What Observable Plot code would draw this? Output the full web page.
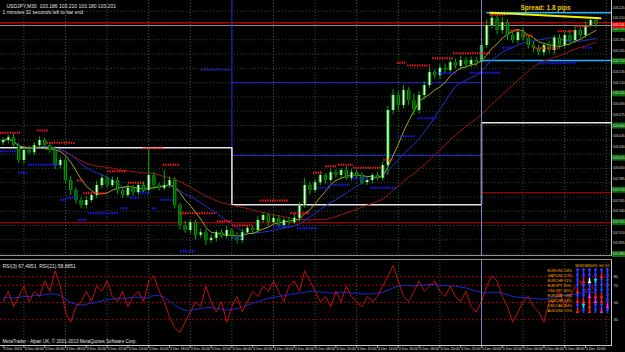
<!DOCTYPE html>
<html><head><meta charset="utf-8">
<script src="https://cdn.jsdelivr.net/npm/d3@7"></script>
<script src="https://cdn.jsdelivr.net/npm/@observablehq/plot@0.6"></script>
<style>
html,body{margin:0;padding:0;background:#000;width:625px;height:352px;overflow:hidden}
#chart{position:relative;width:625px;height:352px}
#chart svg{display:block}
#table{position:absolute;left:546px;top:261px}
</style></head><body><div id="chart"><div id="table"></div></div>
<script>
// ---------- data ----------
const firstOpen = 103.036;
const closes = [103.039,103.043,103.032,103.011,103.025,103.022,103.032,103.039,103.032,103.025,
 103.004,103.011,102.983,102.969,102.955,102.948,102.955,102.962,102.976,102.986,
 102.976,102.983,102.969,102.962,102.972,102.966,102.976,102.969,102.990,102.976,
 102.972,102.976,102.983,102.948,102.920,102.913,102.924,102.906,102.910,102.899,
 102.902,102.910,102.905,102.913,102.906,102.899,102.910,102.916,102.913,102.927,
 102.934,102.924,102.930,102.920,102.927,102.924,102.930,102.948,102.976,102.969,
 102.980,102.990,102.983,102.994,102.990,102.997,102.986,102.994,102.990,102.980,
 102.983,102.990,102.986,103.004,103.081,103.102,103.088,103.109,103.095,103.081,
 103.102,103.116,103.134,103.130,103.140,103.137,103.148,103.143,103.151,103.145,
 103.151,103.148,103.172,103.200,103.210,103.193,103.204,103.186,103.179,103.190,
 103.182,103.172,103.168,103.162,103.172,103.165,103.182,103.172,103.186,103.179,
 103.193,103.186,103.200,103.207,103.201];
// wick lengths beyond the body, in 0.001
const upperWick = [4,3,5,3,4,6,4,5,3,4, 5,4,3,6,3,4,5,4,6,4, 3,5,4,3,5,4,3,5,38,4,
 3,21,5,4,3,6,4,3,5,4, 5,3,4,6,3,4,5,4,3,6, 4,3,5,4,3,4,6,4,10,5, 4,6,3,5,4,3,5,4,3,4,
 5,3,4,5,6,8,5,7,4,9, 6,5,7,4,5,6,4,5,6,4, 5,4,6,8,6,5,7,4,5,3, 6,4,5,4,3,6,4,5,4,6, 5,4,5,3,3];
const lowerWick = [4,5,3,4,5,3,4,3,5,4, 6,5,4,7,5,4,5,3,4,5, 4,3,5,4,3,5,4,3,5,6,
 4,3,4,5,6,4,5,6,4,7, 4,5,3,4,6,5,4,3,5,4, 4,5,3,4,5,4,3,5,4,6, 3,4,5,3,4,5,3,4,5,3,
 4,5,3,4,14,6,8,5,7,7, 5,6,4,5,6,4,5,4,6,5, 4,6,5,4,5,6,5,7,4,5, 4,5,6,4,5,4,6,5,4,5, 4,5,4,3,4];
const rsiFast = [51,63,45,57,69,51,63,57,75,63, 87,69,39,27,45,51,63,51,69,63,
 75,57,51,63,45,57,63,51,75,81, 63,51,33,21,15,27,39,51,45,69, 51,39,51,27,45,57,39,51,63,57,
 69,63,75,63,51,69,75,63,87,75, 63,51,57,45,63,51,69,57,51,45, 57,51,57,69,81,93,75,57,51,63,
 75,63,69,75,63,57,69,57,51,63, 45,39,51,69,81,75,57,45,27,39, 51,57,45,39,27,51,51,63,45,57, 69,75,63,69,63];
const rsiSlow = [55,56,55,56,57,57,58,58,59,60, 60,58,54,50,48,47,48,49,50,52,
 53,54,55,55,55,56,56,55,56,58, 58,56,52,47,43,41,41,42,43,44, 44,43,42,41,42,43,45,47,49,51,
 53,55,56,57,58,59,60,61,62,63, 63,62,62,61,61,62,62,61,61,60, 60,60,61,62,64,67,69,70,70,69,
 70,70,71,71,70,70,69,69,68,67, 65,63,62,61,62,62,61,59,57,56, 56,55,55,54,54,55,56,57,58,59, 60,61,62,62,62];
// fractal levels [fromBar, toBar, price]
const resistance = [[-0.5,3.35,103.050],[6.6,8.7,103.053],[8.5,13.9,103.036],[14.3,15.5,102.983],[15.5,20.1,102.965],
 [20.1,23.9,102.996],[24.1,27,102.980],[27,30.8,103.028],[30.8,34.1,103.005],[34.1,40.8,102.937],[41.2,44.1,102.926],
 [44.1,48.2,102.920],[49.5,54.9,102.955],[55.3,59.1,102.937],[59.7,61.6,102.994],[62,64.3,103.003],[64.5,67.4,103.005],
 [67.4,73,103.001],[73.2,75.1,103.012],[75.8,77.4,103.148],[77.8,82.2,103.144],[82.6,86.6,103.154],[86.6,93.7,103.161],
 [93.7,96.6,103.215],[97.6,99.5,103.193],[100.1,102,103.186],[102,106.8,103.168],[106.8,110.1,103.192],[110.1,113,103.199]];
const support = [[-0.5,2.8,103.024],[3,4.7,102.994],[4.9,10.7,103.005],[11,12.4,102.956],[12.4,14.3,102.959],
 [14.5,16.2,102.928],[16.4,22.2,102.937],[22.6,24.1,102.944],[24.5,26.4,102.959],[26.4,28.3,102.965],[28.7,29.7,102.944],
 [30.3,32.8,102.956],[34.1,37,102.884],[44.3,46.2,102.903],[52,55.3,102.919],[56.6,60.5,102.916],[60.5,63,102.973],
 [63,66.8,102.977],[67.2,70.3,102.986],[70.7,75.8,102.973],[76,79.3,103.045],[79.7,83.5,103.070],[83.7,87.4,103.133],
 [89.9,95.7,103.134],[96.2,98.2,103.169],[103,107.2,103.147],[107.2,110.5,103.148],[111.6,113.5,103.169]];
// daily high/low lines
const pivotSteps = [[-0.5,103.029],[44,103.029],[44,102.949],[92,102.949],[92,103.064],[117,103.064]];
const boxBars = [44, 92];
const boxPrices = [103.120, 103.018];
const boxLeftLine = [38, 44, 103.138];
const hLines = [
  {x1:-0.5, x2:117, y:103.204, c:"#b00000", w:1.5},
  {x1:-0.5, x2:117, y:103.200, c:"#8c8c8c", w:1},
  {x1:-0.5, x2:117, y:102.924, c:"#9a0000", w:1.2},
  {x1:92, x2:117, y:102.966, c:"#9a0000", w:1.2},
  {x1:92, x2:117, y:103.151, c:"#1eb4ff", w:1.5},
  {x1:93, x2:117, y:103.218, c:"#1eb4ff", w:1.5}
];
const trendLine = [[93.7,103.218],[114.9,103.210]];
const priceTicks = [103.225,103.210,103.195,103.180,103.165,103.150,103.135,103.120,103.105,103.090,103.075,103.060,
 103.045,103.030,103.015,103.000,102.985,102.970,102.955,102.940,102.925,102.910,102.895,102.880];
const gridPrices = [103.220,103.200,103.180,103.160,103.140,103.120,103.100,103.080,103.060,103.040,103.020,103.000,
 102.980,102.960,102.940,102.920,102.900,102.880];
const gridBars = [4,12,20,28,36,44,52,60,68,76,84,92,100,108,116];
const greenGridBars = [28,76];
const timeTickBars = [0,4,8,12,16,20,24,28,32,36,40,44,48,52,56,60,64,68,72,76,80,84,88,92,96,100,104,108,112];
const timeLabels = ["3 Dec 2013","3 Dec 04:00","3 Dec 06:00","3 Dec 08:00","3 Dec 10:00","3 Dec 12:00","3 Dec 14:00",
 "3 Dec 16:00","3 Dec 18:00","3 Dec 20:00","3 Dec 22:00","4 Dec 00:00","4 Dec 02:00","4 Dec 04:00","4 Dec 06:00",
 "4 Dec 08:00","4 Dec 10:00","4 Dec 12:00","4 Dec 14:00","4 Dec 16:00","4 Dec 18:00","4 Dec 20:00","4 Dec 22:00",
 "5 Dec 00:00","5 Dec 02:00","5 Dec 04:00","5 Dec 06:00","5 Dec 08:00","5 Dec 10:00"];
const rsiLevels = [80,70,50,30];
const pairs = ["EURUSD 58%","GBPUSD 57%","EURCHF 11%","EURJPY 19%","USDJPY 40%","EURGBP 18%","USDCHF 41%","USDCAD 44%","AUDUSD 55%"];
const tfHeaders = ["M5","M15","M30","H1","H4","D1"];
const arrowGrid = [
 "BBBBBB",
 "BBBBRB",
 "BRWCBB",
 "BBBBBB",
 "RBBBBB",
 "BBMRRB",
 "RRRMRB",
 "BCRBBM",
 "RBRBMB"];
const titleLine1 = "USDJPY,M30  103.186 103.210 103.180 103.201";
const titleLine2 = "1 minutes 32 seconds left to bar end";
const spreadText = "Spread: 1.8 pips";
const rsiTitle = "RSI(3) 67.4951  RSI(21) 58.8851";
const copyright = "MetaTrader - Alpari UK, \u00a9 2001-2013 MetaQuotes Software Corp.";

// ---------- build ----------
const bars = closes.map((c, i) => {
  const o = i ? closes[i - 1] : firstOpen;
  return {i, open: o, close: c, high: Math.max(o, c) + upperWick[i] / 1000, low: Math.min(o, c) - lowerWick[i] / 1000};
});
const rsiRows = rsiFast.map((v, i) => ({i, fast: v, slow: rsiSlow[i]}));
const seg = a => a.map(([x1, x2, y]) => ({x1, x2, y}));
const xDom = [-0.5, 117];
const font = "Liberation Sans, Arial, sans-serif";
const gridMarks = [
  Plot.ruleX(gridBars, {stroke: d => greenGridBars.includes(d) ? "#1d7a1d" : "#505050", strokeDasharray: "1,2"})
];

const main = Plot.plot({
  width: 625, height: 257, marginLeft: 0, marginRight: 14, marginTop: 0, marginBottom: 2,
  style: {background: "#000", fontFamily: font, fontSize: "5px", color: "#ddd"},
  x: {domain: xDom, axis: null},
  y: {domain: [102.878, 103.235], axis: null},
  color: {type: "identity"},
  marks: [
    Plot.ruleY(gridPrices, {stroke: "#2f4a2f", strokeDasharray: "1,2"}),
    ...gridMarks,
    Plot.ruleY(hLines, {x1: "x1", x2: "x2", y: "y", stroke: "c", strokeWidth: "w"}),
    Plot.ruleY(boxPrices, {x1: boxBars[0], x2: boxBars[1], stroke: "#1a2ad8"}),
    Plot.ruleX(boxBars, {y1: boxPrices[1], y2: 103.235, stroke: "#1a2ad8"}),
    Plot.ruleY([boxLeftLine], {x1: d => d[0], x2: d => d[1], y: d => d[2], stroke: "#1a2ad8"}),
    Plot.line(pivotSteps, {x: d => d[0], y: d => d[1], stroke: "#e6e6e6", strokeWidth: 1.5}),
    Plot.lineY(bars, Plot.windowY({k: 30, anchor: "end", strict: false}, {x: "i", y: "close", stroke: "#a01414", strokeWidth: 1})),
    Plot.lineY(bars, Plot.windowY({k: 14, anchor: "end", strict: false}, {x: "i", y: "close", stroke: "#2233cc", strokeWidth: 1})),
    Plot.lineY(bars, Plot.windowY({k: 7, anchor: "end", strict: false}, {x: "i", y: "close", stroke: "#a8a020", strokeWidth: 1})),
    Plot.ruleX(bars, {x: "i", y1: "low", y2: "high", stroke: "#00b000", strokeWidth: 1}),
    Plot.ruleX(bars, {x: "i", y1: "open", y2: "close", stroke: "#0aa00a", strokeWidth: 3.4}),
    Plot.ruleX(bars.filter(d => d.close > d.open), {x: "i", y1: "open", y2: "close", stroke: "#e8ffe8", strokeWidth: 1.4}),
    Plot.ruleX(bars.filter(d => d.close <= d.open), {x: "i", y1: "open", y2: "close", stroke: "#004a00", strokeWidth: 1.4}),
    Plot.ruleY(seg(resistance), {x1: "x1", x2: "x2", y: "y", stroke: "#ff1a1a", strokeWidth: 2, strokeDasharray: "1.4,1"}),
    Plot.ruleY(seg(support), {x1: "x1", x2: "x2", y: "y", stroke: "#1a1aff", strokeWidth: 2, strokeDasharray: "1.4,1"}),
    Plot.line(trendLine, {x: d => d[0], y: d => d[1], stroke: "#f0f000", strokeWidth: 2}),
    Plot.ruleX([92], {stroke: "#7a86b8", strokeWidth: 1}),
    Plot.ruleX([117], {stroke: "#c8c8c8"}),
    Plot.ruleY(priceTicks.filter((d, i) => i % 3 === 2), {x1: 117.2, x2: 122, stroke: "#0a6e0a", strokeWidth: 6}),
    Plot.text(priceTicks, {y: d => d, frameAnchor: "right", textAnchor: "start", dx: 1, text: d => d.toFixed(3), fill: "#d8d8d8", fontSize: 3.4}),
    Plot.ruleY([closes[closes.length - 1]], {x1: 117.2, x2: 122, stroke: "#e00000", strokeWidth: 6}),
    Plot.text([closes[closes.length - 1]], {y: d => d, frameAnchor: "right", textAnchor: "start", dx: 1, text: d => d.toFixed(3), fill: "#fff", fontSize: 3.4}),
    Plot.frame({anchor: "bottom", stroke: "#909090"}),
    Plot.text([titleLine1], {frameAnchor: "top-left", dx: 6, dy: 4, textAnchor: "start", fill: "#e0e0e0", fontSize: 5}),
    Plot.text([titleLine2], {frameAnchor: "top-left", dx: 2, dy: 10, textAnchor: "start", fill: "#e0e0e0", fontSize: 5}),
    Plot.text([spreadText], {frameAnchor: "top-left", dx: 520, dy: 5, textAnchor: "start", fill: "#e8c400", fontSize: 6.5, fontWeight: "bold"})
  ]
});

const rsi = Plot.plot({
  width: 625, height: 95, marginLeft: 0, marginRight: 14, marginTop: 2, marginBottom: 7,
  style: {background: "#000", fontFamily: font, fontSize: "5px", color: "#ddd"},
  x: {domain: xDom, axis: null},
  y: {domain: [0, 100], axis: null},
  color: {type: "identity"},
  marks: [
    ...gridMarks,
    Plot.ruleY(rsiLevels, {stroke: "#a00000", strokeDasharray: "2,2"}),
    Plot.line(rsiRows, {x: "i", y: "slow", stroke: "#1a2ad8", strokeWidth: 1}),
    Plot.line(rsiRows, {x: "i", y: "fast", stroke: "#c01010", strokeWidth: 1}),
    Plot.ruleX([92], {stroke: "#7a86b8", strokeWidth: 1}),
    Plot.ruleX([117], {stroke: "#c8c8c8"}),
    Plot.text(rsiLevels, {y: d => d, frameAnchor: "right", textAnchor: "start", dx: 2, text: d => String(d), fill: "#d8d8d8", fontSize: 4}),
    Plot.frame({anchor: "top", stroke: "#909090"}),
    Plot.frame({anchor: "bottom", stroke: "#c8c8c8"}),
    Plot.ruleX(timeTickBars, {y1: 0, y2: -3, stroke: "#c8c8c8"}),
    Plot.text(timeTickBars, {x: d => d, frameAnchor: "bottom", dy: 4.5, dx: 0.5, textAnchor: "start", text: (d, i) => timeLabels[i], fill: "#e0e0e0", fontSize: 3.6}),
    Plot.text([rsiTitle], {frameAnchor: "top-left", dx: 2, dy: 5, textAnchor: "start", fill: "#e0e0e0", fontSize: 5}),
    Plot.text([copyright], {frameAnchor: "bottom-left", dx: 2, dy: -3, textAnchor: "start", fill: "#e0e0e0", fontSize: 4.6})
  ]
});

// currency strength table
const cells = [];
arrowGrid.forEach((row, r) => row.split("").forEach((ch, c) => cells.push({pair: pairs[r], tf: tfHeaders[c], ch})));
const arrowColor = {B: "#2a3cff", R: "#ff1a1a", W: "#ffffff", C: "#00e5ff", M: "#ff22ff"};
const arrowUp = {B: true, R: false, W: false, C: true, M: false};
const table = Plot.plot({
  width: 66, height: 52, marginLeft: 27, marginRight: 1, marginTop: 7, marginBottom: 0,
  style: {background: "transparent", fontFamily: font, color: "#ffb000"},
  x: {type: "band", domain: tfHeaders, padding: 0, axis: null},
  y: {type: "band", domain: pairs, padding: 0, axis: null},
  color: {type: "identity"},
  marks: [
    Plot.text(tfHeaders, {x: d => d, frameAnchor: "top", dy: -4, text: d => d, fill: "#ffb000", fontSize: 3.4}),
    Plot.text(pairs, {y: d => d, frameAnchor: "left", dx: -26, textAnchor: "start", text: d => d, fill: "#ffaa00", fontSize: 3.8}),
    Plot.vector(cells, {x: "tf", y: "pair", length: 4.2, rotate: d => arrowUp[d.ch] ? 0 : 180, anchor: "middle",
      stroke: d => arrowColor[d.ch], strokeWidth: 1.6, shape: "arrow"})
  ]
});

const host = document.getElementById("chart");
host.insertBefore(rsi, host.firstChild);
host.insertBefore(main, rsi);
document.getElementById("table").append(table);
</script></body></html>
